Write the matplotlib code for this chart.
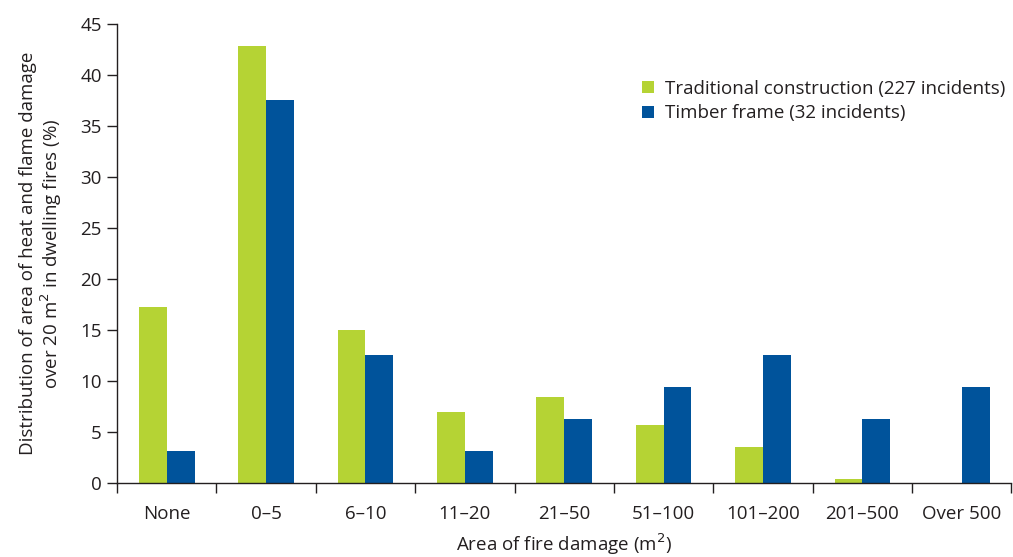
import numpy as np
import matplotlib.pyplot as plt

plt.rcParams['font.family'] = ['Open Sans', 'DejaVu Sans']

categories = ['None', '0–5', '6–10', '11–20', '21–50', '51–100', '101–200', '201–500', 'Over 500']
traditional = [17.2, 42.8, 15.0, 7.0, 8.4, 5.7, 3.5, 0.4, 0.0]
timber = [3.1, 37.5, 12.5, 3.1, 6.25, 9.4, 12.5, 6.25, 9.4]

green = '#b5d334'
blue = '#00539b'
text_col = '#231f20'
fs = 13.5

fig = plt.figure(figsize=(10.13, 5.57), dpi=100)
ax = fig.add_axes([0.1155, 0.133, 0.883, 0.824])

x = np.arange(len(categories))
w = 0.28
ax.bar(x - w / 2, traditional, w, color=green, label='Traditional construction (227 incidents)')
ax.bar(x + w / 2, timber, w, color=blue, label='Timber frame (32 incidents)')

ax.set_xlim(-0.5, len(categories) - 0.5)
ax.set_ylim(0, 45)
ax.set_yticks(np.arange(0, 46, 5))

# tick marks between groups, labels at centres
ax.set_xticks(np.arange(-0.5, len(categories), 1.0))
ax.set_xticklabels([])
ax.set_xticks(x, minor=True)
ax.set_xticklabels(categories, minor=True)
ax.tick_params(axis='x', which='major', length=7, width=1, color=text_col)
ax.tick_params(axis='x', which='minor', length=0, pad=16, labelsize=fs, labelcolor=text_col)
ax.tick_params(axis='y', length=7, width=1, color=text_col, labelsize=fs, labelcolor=text_col, pad=4)

for s in ['top', 'right']:
    ax.spines[s].set_visible(False)
for s in ['left', 'bottom']:
    ax.spines[s].set_color(text_col)
    ax.spines[s].set_linewidth(1)

ax.set_ylabel('Distribution of area of heat and flame damage\nover 20 m$^2$ in dwelling fires (%)',
              fontsize=fs, color=text_col, labelpad=12, linespacing=1.05)
ax.set_xlabel('Area of fire damage (m$^2$)', fontsize=fs, color=text_col, labelpad=6)

ax.legend(loc='upper right', bbox_to_anchor=(1.012, 0.915), frameon=False, fontsize=fs,
          handlelength=0.6, handleheight=0.6, handletextpad=0.6, labelspacing=0.35,
          labelcolor=text_col)

fig.savefig('out.png', dpi=100)
